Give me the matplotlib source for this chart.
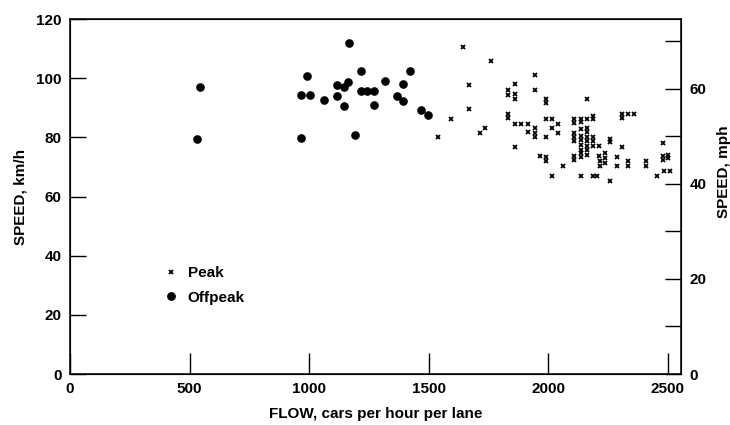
import matplotlib.pyplot as plt
from matplotlib.lines import Line2D

plt.rcParams['font.family'] = ['Liberation Sans', 'DejaVu Sans']
plt.rcParams['font.weight'] = 'bold'
plt.rcParams['font.size'] = 11

# Peak period observations (flow in cars/h/lane, speed in km/h)
peak_flow = [1643, 1760, 1667, 1667, 1593, 1538, 1736, 1713, 1943, 1943,
             1862, 1834, 1862, 1834, 1862, 1992, 1992, 2162, 1834, 1834,
             1862, 1887, 1915, 1992, 2015, 2015, 2039, 2039, 1915, 1943,
             1943, 1943, 1992, 1862, 1966, 1992, 1992, 2064, 2015,
             2110, 2110, 2110, 2110, 2110, 2110, 2110,
             2138, 2138, 2138, 2138, 2138, 2138, 2138, 2138, 2138,
             2162, 2162, 2162, 2162, 2162, 2162, 2162, 2162,
             2187, 2187, 2187, 2187, 2187, 2211, 2211,
             2238, 2238, 2238, 2215, 2215, 2259, 2259, 2287, 2287, 2308,
             2336, 2336, 2308, 2332, 2357, 2308, 2410, 2410, 2455,
             2480, 2480, 2480, 2503, 2503, 2483, 2508,
             2138, 2187, 2204, 2259]
peak_speed = [110.6, 105.8, 97.7, 89.7, 86.3, 80.1, 83.3, 81.6, 101.0, 96.1,
              98.0, 96.0, 94.8, 94.5, 93.1, 92.9, 91.7, 92.9, 87.8, 86.7,
              84.7, 84.7, 84.7, 86.3, 86.3, 83.2, 84.6, 81.6, 81.8, 83.2,
              81.6, 80.1, 80.1, 76.8, 73.7, 73.4, 72.0, 70.3, 67.1,
              86.3, 85.0, 81.6, 80.2, 78.7, 73.7, 72.5,
              86.3, 85.2, 82.7, 80.4, 79.0, 77.6, 75.9, 74.6, 73.4,
              86.3, 83.3, 81.8, 80.2, 78.7, 77.1, 75.7, 74.2,
              87.4, 86.3, 80.2, 78.7, 77.1, 77.1, 73.7,
              74.8, 73.1, 71.4, 72.0, 70.5, 79.5, 78.4, 73.4, 70.3, 76.8,
              72.0, 70.5, 87.8, 87.8, 87.8, 86.7, 72.0, 70.5, 67.1,
              78.2, 73.7, 72.5, 74.2, 73.1, 68.6, 68.6,
              66.9, 66.9, 66.9, 65.2]

# Offpeak observations
offpeak_flow = [1168, 990, 1217, 1420, 1118, 1145, 1164, 1316, 1393, 965,
                1002, 1116, 1215, 1244, 1273, 1368, 1063, 1145, 1273, 1394,
                1470, 1499, 965, 1193, 545, 530]
offpeak_speed = [111.8, 100.9, 102.3, 102.3, 97.7, 97.1, 98.7, 99.1, 98.0, 94.5,
                 94.5, 94.0, 95.6, 95.6, 95.6, 94.1, 92.5, 90.7, 91.0, 92.3,
                 89.2, 87.7, 79.7, 80.8, 97.2, 79.6]

KMH_PER_MPH = 1.609

fig, ax = plt.subplots(figsize=(7.3, 4.25), dpi=100)
fig.subplots_adjust(left=0.096, right=0.933, bottom=0.12, top=0.955)

ax.plot(peak_flow, peak_speed, linestyle='none', marker='x', markersize=3.2,
        markeredgewidth=1.3, color='black')
ax.scatter(offpeak_flow, offpeak_speed, s=27, color='black', zorder=3)

ax.set_xlim(0, 2556)
ax.set_ylim(0, 120)
ax.set_xticks([0, 500, 1000, 1500, 2000, 2500])
ax.set_yticks([0, 20, 40, 60, 80, 100, 120])
ax.tick_params(axis='y', direction='in', length=11.5, width=1, pad=6, labelsize=11)
ax.tick_params(axis='x', direction='in', length=15, width=1, pad=6, labelsize=11)
for s in ax.spines.values():
    s.set_linewidth(1.1)

ax.set_xlabel('FLOW, cars per hour per lane', fontsize=11, fontweight='bold', labelpad=8)
ax.set_ylabel('SPEED, km/h', fontsize=11, fontweight='bold', labelpad=6)

# right axis in mph
ax2 = ax.twinx()
ax2.set_ylim(0, 120 / KMH_PER_MPH)
mph_ticks = [0, 10, 20, 30, 40, 50, 60, 70]
ax2.set_yticks(mph_ticks)
ax2.set_yticklabels([str(t) if t % 20 == 0 else '' for t in mph_ticks])
ax2.tick_params(axis='y', direction='in', length=11.5, width=1, pad=6, labelsize=11)
ax2.set_ylabel('SPEED, mph', fontsize=11, fontweight='bold', rotation=90)
ax2.yaxis.set_label_coords(1.058, 0.57)

handles = [Line2D([], [], linestyle='none', marker='x', markersize=3.2,
                  markeredgewidth=1.3, color='black'),
           Line2D([], [], linestyle='none', marker='o', markersize=5.3, color='black')]
ax.legend(handles, ['Peak', 'Offpeak'], loc='center left',
          bbox_to_anchor=(0.14, 0.25), frameon=False, borderpad=0,
          handlelength=1, handletextpad=0.6, labelspacing=0.7,
          prop={'weight': 'bold', 'size': 11})

fig.savefig('out.png', dpi=100)
